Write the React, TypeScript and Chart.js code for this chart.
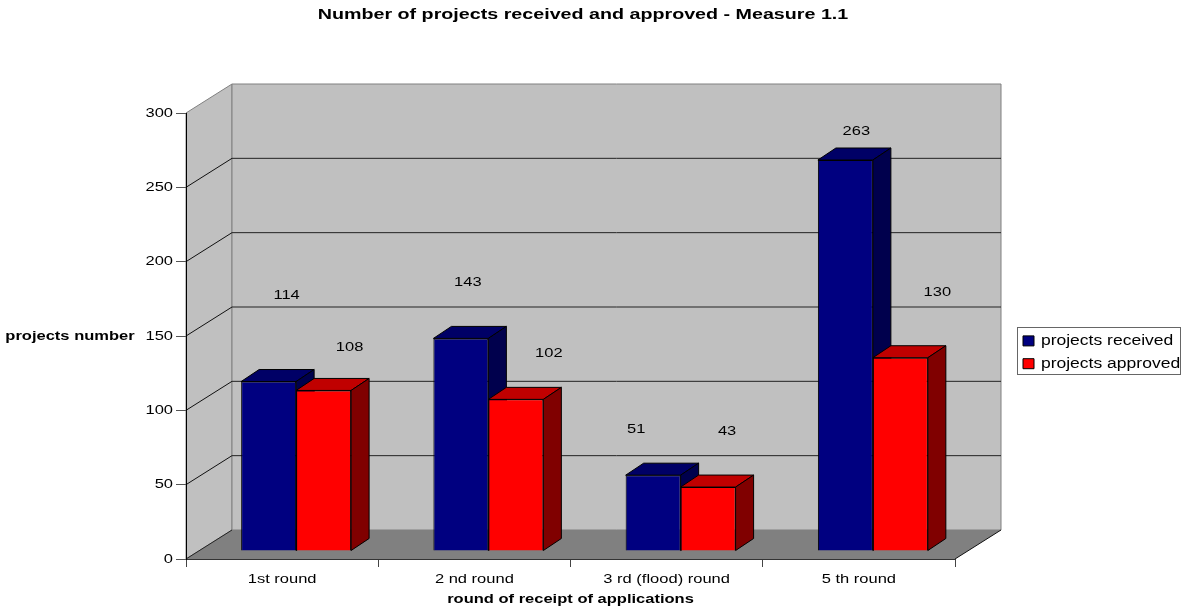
import React, { useEffect, useRef } from "react";
import { Chart, registerables } from "chart.js";

Chart.register(...registerables);

const rounds = ["1st round", "2 nd round", "3 rd (flood) round", "5 th round"];
const received = [114, 143, 51, 263];
const approved = [108, 102, 43, 130];
const yTicks = [0, 50, 100, 150, 200, 250, 300];

// Offsets of the free-floating value labels from the top of their bars.
const receivedLabelShift = [[18, -86], [7, -56], [-17, -46], [11, -29]];
const approvedLabelShift = [[26, -43], [33, -46], [19, -56], [37, -65]];

const FONT = "'Liberation Sans', Arial, sans-serif";
const TEXT_WIDEN = 1.27;

// Depth of the plot box and of the bars, in pixels.
const WALL_DX = 46;
const WALL_DY = -29;
const BAR_SHIFT_X = 14;
const BAR_SHIFT_Y = -8;
const BAR_DX = 18;
const BAR_DY = -12;

const faceColors = [
  { top: "#000066", side: "#00004d" },
  { top: "#c00000", side: "#800000" },
];

function polygon(ctx: CanvasRenderingContext2D, pts: number[][], fill: string, stroke: string | null) {
  ctx.beginPath();
  pts.forEach(([x, y], i) => (i ? ctx.lineTo(x, y) : ctx.moveTo(x, y)));
  ctx.closePath();
  ctx.fillStyle = fill;
  ctx.fill();
  if (stroke) {
    ctx.strokeStyle = stroke;
    ctx.lineWidth = 1;
    ctx.stroke();
  }
}

function line(ctx: CanvasRenderingContext2D, x1: number, y1: number, x2: number, y2: number, color: string) {
  ctx.beginPath();
  ctx.moveTo(x1, y1);
  ctx.lineTo(x2, y2);
  ctx.strokeStyle = color;
  ctx.lineWidth = 1;
  ctx.stroke();
}

// Draws the box behind the bars, the legend frame and the vertical axis caption,
// then paints each series with its top and side faces, received before approved.
const boxPlugin = {
  id: "box3d",
  beforeDraw(chart: any) {
    const { ctx, chartArea: a, scales } = chart;
    const l = a.left, r = a.right, t = a.top, b = a.bottom;
    ctx.save();
    polygon(ctx, [[l, t], [l + WALL_DX, t + WALL_DY], [l + WALL_DX, b + WALL_DY], [l, b]], "#c0c0c0", "#808080");
    polygon(ctx, [[l + WALL_DX, t + WALL_DY], [r + WALL_DX, t + WALL_DY], [r + WALL_DX, b + WALL_DY], [l + WALL_DX, b + WALL_DY]], "#c0c0c0", "#808080");
    polygon(ctx, [[l, b], [l + WALL_DX, b + WALL_DY], [r + WALL_DX, b + WALL_DY], [r, b]], "#808080", null);
    yTicks.forEach((v) => {
      const y = scales.y.getPixelForValue(v);
      if (v > 0 && v < 300) {
        line(ctx, l, y, l + WALL_DX, y + WALL_DY, "#111");
        line(ctx, l + WALL_DX, y + WALL_DY, r + WALL_DX, y + WALL_DY, "#222");
      }
    });
    line(ctx, l, b, l + WALL_DX, b + WALL_DY, "#222");
    line(ctx, r, b, r + WALL_DX, b + WALL_DY, "#111");
    // Legend frame, and the legend box placed inside it.
    ctx.fillStyle = "#fff";
    ctx.fillRect(1017.5, 327.5, 163, 47);
    ctx.strokeStyle = "#666";
    ctx.lineWidth = 1;
    ctx.strokeRect(1017.5, 327.5, 163, 47);
    const lg = chart.legend;
    lg.left = 1014;
    lg.right = 1182;
    lg.top = 325;
    lg.bottom = 380;
    lg.width = 168;
    lg.height = 55;
    // Title centred a little left of the canvas middle.
    const tb = chart.titleBlock;
    tb.left = 0;
    tb.right = 1166;
    ctx.restore();
    ctx.save();
    ctx.font = `bold 13px ${FONT}`;
    ctx.fillStyle = "#000";
    ctx.textAlign = "center";
    ctx.textBaseline = "middle";
    ctx.fillText("projects number", 70, 336);
    ctx.restore();
  },
  // The series are painted together in afterDatasetsDraw.
  beforeDatasetDraw() {
    return false;
  },
  afterDatasetsDraw(chart: any) {
    const { ctx } = chart;
    ctx.save();
    ctx.translate(BAR_SHIFT_X, BAR_SHIFT_Y);
    chart.data.datasets.forEach((_: any, d: number) => {
      const meta = chart.getDatasetMeta(d);
      const c = faceColors[d];
      meta.data.forEach((bar: any) => {
        const L = bar.x - bar.width / 2;
        const R = bar.x + bar.width / 2;
        const T = bar.y;
        const B = bar.base;
        polygon(ctx, [[L, T], [L + BAR_DX, T + BAR_DY], [R + BAR_DX, T + BAR_DY], [R, T]], c.top, "#000");
        polygon(ctx, [[R, T], [R + BAR_DX, T + BAR_DY], [R + BAR_DX, B + BAR_DY], [R, B]], c.side, "#000");
      });
      meta.controller.draw();
    });
    ctx.restore();

    ctx.save();
    ctx.font = `13px ${FONT}`;
    ctx.fillStyle = "#000";
    ctx.textAlign = "center";
    ctx.textBaseline = "middle";
    [receivedLabelShift, approvedLabelShift].forEach((shifts, d) => {
      const meta = chart.getDatasetMeta(d);
      const values = chart.data.datasets[d].data;
      meta.data.forEach((bar: any, i: number) => {
        ctx.fillText(String(values[i]), bar.x + BAR_SHIFT_X + shifts[i][0], bar.y + BAR_SHIFT_Y + shifts[i][1]);
      });
    });
    ctx.restore();
  },
};

export default function App() {
  const ref = useRef<HTMLCanvasElement>(null);
  useEffect(() => {
    const canvas = ref.current!;
    const ctx = canvas.getContext("2d") as any;
    // The lettering of this chart is wide: every string is stretched about its anchor.
    const baseFill = CanvasRenderingContext2D.prototype.fillText;
    ctx.fillText = (text: string, x: number, y: number) => {
      ctx.save();
      ctx.translate(x, y);
      ctx.scale(TEXT_WIDEN, 1);
      baseFill.call(ctx, text, 0, 0);
      ctx.restore();
    };
    const chart = new Chart(canvas, {
      type: "bar",
      data: {
        labels: rounds,
        datasets: [
          { label: "projects received", data: received, backgroundColor: "#000080", borderColor: "#000", borderWidth: 1 },
          { label: "projects approved", data: approved, backgroundColor: "#ff0000", borderColor: "#000", borderWidth: 1 },
        ] as any,
      },
      options: {
        responsive: false,
        animation: false,
        layout: { padding: { left: 0, right: 227, top: 0, bottom: 0 } },
        datasets: { bar: { categoryPercentage: 0.572, barPercentage: 1 } },
        plugins: {
          title: {
            display: true,
            text: "Number of projects received and approved - Measure 1.1",
            color: "#000",
            font: { family: FONT, size: 15.5, weight: "bold" },
            padding: { top: 5, bottom: 89.4 },
          },
          legend: {
            position: "chartArea",
            align: "start",
            labels: {
              boxWidth: 11,
              boxHeight: 10,
              padding: 9,
              color: "#000",
              font: { family: FONT, size: 13.8 },
            },
          },
          tooltip: { enabled: false },
        },
        scales: {
          x: {
            afterFit: (s: any) => { s.height = 48; },
            grid: { drawOnChartArea: false, drawTicks: true, tickLength: 8, color: "#444" },
            border: { color: "#333" },
            ticks: { color: "#000", font: { family: FONT, size: 13 }, padding: 5, maxRotation: 0 },
            title: {
              display: true,
              text: "round of receipt of applications",
              color: "#000",
              font: { family: FONT, size: 13, weight: "bold" },
              padding: { top: 3, bottom: 0 },
            },
          },
          y: {
            min: 0,
            max: 300,
            afterFit: (s: any) => { s.width = 186; },
            grid: { drawOnChartArea: false, drawTicks: true, tickLength: 10, color: "#555" },
            border: { color: "#000" },
            ticks: { stepSize: 50, color: "#000", font: { family: FONT, size: 13 }, padding: 3 },
          },
        },
      } as any,
      plugins: [boxPlugin],
    });
    return () => chart.destroy();
  }, []);
  return (
    <div style={{ position: "absolute", left: 0, top: 0, width: 1182, height: 607 }}>
      <canvas ref={ref} width={1182} height={607} style={{ display: "block" }} />
    </div>
  );
}
